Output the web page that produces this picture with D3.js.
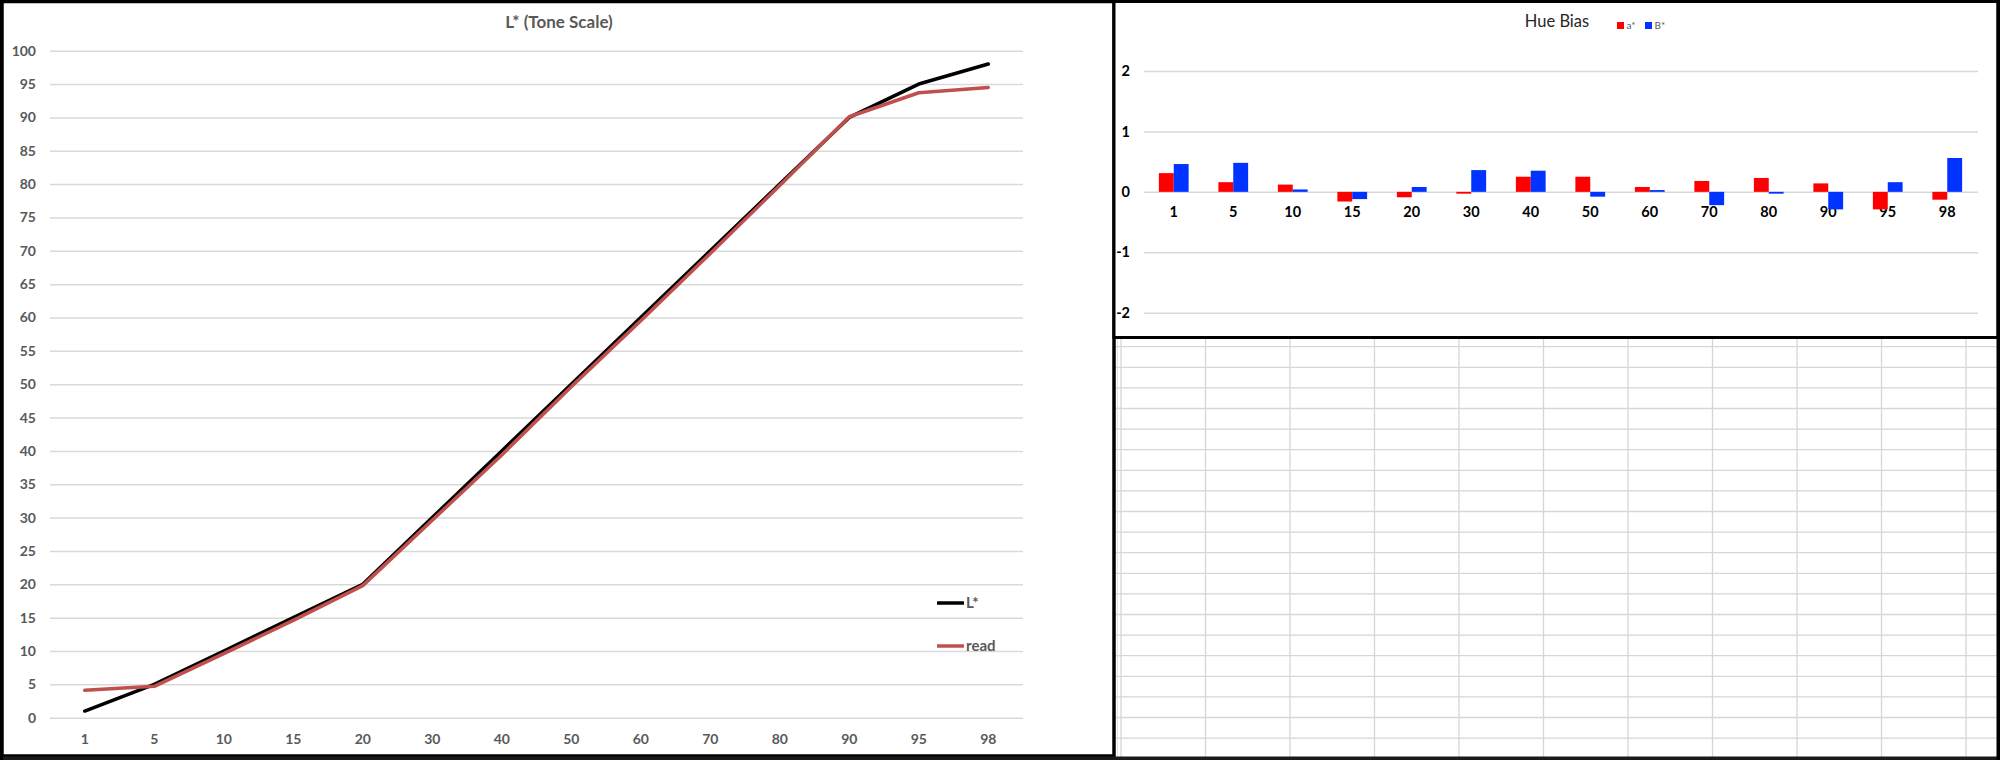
<!DOCTYPE html>
<html>
<head>
<meta charset="utf-8">
<script src="https://cdn.jsdelivr.net/npm/d3@7"></script>
<style>
  html, body { margin: 0; padding: 0; background: #ffffff; }
  svg { display: block; }
</style>
</head>
<body>
<script>
// ---- data ----
const categories = ["1","5","10","15","20","30","40","50","60","70","80","90","95","98"];
const lStar = [1,5,10,15,20,30,40,50,60,70,80,90,95,98];
const readVals = [4.1,4.7,9.6,14.6,19.8,29.6,39.4,49.6,59.5,69.6,79.8,90.1,93.7,94.5];
const toneTicks = [0,5,10,15,20,25,30,35,40,45,50,55,60,65,70,75,80,85,90,95,100];

const aStar = [0.31,0.16,0.12,-0.16,-0.09,-0.03,0.25,0.25,0.08,0.18,0.23,0.14,-0.29,-0.13];
const bStar = [0.46,0.48,0.04,-0.12,0.08,0.36,0.35,-0.08,0.03,-0.22,-0.03,-0.29,0.16,0.56];
const hueTicks = [-2,-1,0,1,2];
const hueSeries = ["a*","B*"];

const W = 2000, H = 760;
const FONT = "Lato, 'Open Sans', 'DejaVu Sans', sans-serif";
const svg = d3.select("body").append("svg").attr("width", W).attr("height", H);
svg.append("rect").attr("width", W).attr("height", H).attr("fill", "#fff");

// ---- spreadsheet grid background (bottom right) ----
const sheet = svg.append("g");
const rowLines = d3.range(0, 20).map(i => 346.7 + i * 20.6);
const colLines = d3.range(0, 11).map(i => 1121 + i * 84.5);
sheet.selectAll("line.r").data(rowLines).join("line")
  .attr("x1", 1114).attr("x2", 1998).attr("y1", d => d).attr("y2", d => d)
  .attr("stroke", "#d6d6d6").attr("stroke-width", 1.3);
sheet.selectAll("line.c").data(colLines).join("line")
  .attr("x1", d => d).attr("x2", d => d).attr("y1", 339).attr("y2", 758)
  .attr("stroke", "#d6d6d6").attr("stroke-width", 1.3);
sheet.append("line").attr("x1", 1117.5).attr("x2", 1117.5).attr("y1", 339).attr("y2", 758)
  .attr("stroke", "#e2e2e2").attr("stroke-width", 1);

// ================= LEFT CHART: L* (Tone Scale) =================
const left = svg.append("g");
left.append("rect").attr("x", 2).attr("y", 1.5).attr("width", 1112).attr("height", 754.5)
  .attr("fill", "#fff").attr("stroke", "#000").attr("stroke-width", 3.5);

const xL = d3.scaleBand().domain(categories).range([50, 1023]);
const yL = d3.scaleLinear().domain([0, 100]).range([717.7, 50.7]);

const yAxisL = left.append("g").attr("transform", "translate(50,0)")
  .call(d3.axisLeft(yL).tickValues(toneTicks).tickSize(-973).tickPadding(14).tickFormat(d => String(d)));
yAxisL.select(".domain").remove();
yAxisL.selectAll(".tick line").attr("stroke", "#d9d9d9").attr("stroke-width", 1.5);
yAxisL.selectAll(".tick text").attr("fill", "#595959").attr("font-family", FONT)
  .attr("font-weight", "bold").attr("font-size", 14);

const xAxisL = left.append("g").attr("transform", "translate(0,717.7)")
  .call(d3.axisBottom(xL).tickSize(0).tickPadding(16));
xAxisL.select(".domain").remove();
xAxisL.selectAll(".tick text").attr("fill", "#595959").attr("font-family", FONT)
  .attr("font-weight", "bold").attr("font-size", 14);

left.append("text").attr("x", 559).attr("y", 28).attr("text-anchor", "middle")
  .attr("fill", "#595959").attr("font-family", FONT).attr("font-weight", "bold")
  .attr("font-size", 17).text("L* (Tone Scale)");

const lineGen = vals => d3.line()
  .x((d, i) => xL(categories[i]) + xL.bandwidth() / 2)
  .y(d => yL(d))(vals);

left.append("path").attr("d", lineGen(lStar)).attr("fill", "none")
  .attr("stroke", "#000").attr("stroke-width", 3.5).attr("stroke-linejoin", "round").attr("stroke-linecap", "round");
left.append("path").attr("d", lineGen(readVals)).attr("fill", "none")
  .attr("stroke", "#c0504d").attr("stroke-width", 3.5).attr("stroke-linejoin", "round").attr("stroke-linecap", "round");

// legend
const legL = [{name: "L*", color: "#000", y: 603}, {name: "read", color: "#c0504d", y: 646}];
const lg = left.selectAll("g.leg").data(legL).join("g");
lg.append("line").attr("x1", 937).attr("x2", 964).attr("y1", d => d.y).attr("y2", d => d.y)
  .attr("stroke", d => d.color).attr("stroke-width", 3.5);
lg.append("text").attr("x", 966).attr("y", d => d.y).attr("dy", "0.35em")
  .attr("fill", "#595959").attr("font-family", FONT).attr("font-weight", "bold")
  .attr("font-size", 15).text(d => d.name);

// ================= RIGHT CHART: Hue Bias =================
const right = svg.append("g");
right.append("rect").attr("x", 1114).attr("y", 1.5).attr("width", 884).attr("height", 336)
  .attr("fill", "#fff").attr("stroke", "#000").attr("stroke-width", 3);

const xR = d3.scaleBand().domain(categories).range([1144, 1977]).paddingInner(0.5).paddingOuter(0.25);
const xSub = d3.scaleBand().domain(hueSeries).range([0, xR.bandwidth()]);
const yR = d3.scaleLinear().domain([-2, 2]).range([312.7, 71]);
const hueColors = {"a*": "#ff0000", "B*": "#0033ff"};

const yAxisR = right.append("g").attr("transform", "translate(1144,0)")
  .call(d3.axisLeft(yR).tickValues(hueTicks).tickSize(-834).tickPadding(14).tickFormat(d => String(d)));
yAxisR.select(".domain").remove();
yAxisR.selectAll(".tick line").attr("stroke", "#d9d9d9").attr("stroke-width", 1.5);
yAxisR.selectAll(".tick text").attr("fill", "#000").attr("font-family", FONT)
  .attr("font-weight", "bold").attr("font-size", 14.5);

const xAxisR = right.append("g").attr("transform", `translate(0,${yR(0)})`)
  .call(d3.axisBottom(xR).tickSize(0).tickPadding(14.6));
xAxisR.select(".domain").remove();
xAxisR.selectAll(".tick text").attr("fill", "#000").attr("font-family", FONT)
  .attr("font-weight", "bold").attr("font-size", 14.5);

const barData = [];
categories.forEach((c, i) => {
  barData.push({cat: c, s: "a*", v: aStar[i]});
  barData.push({cat: c, s: "B*", v: bStar[i]});
});
right.selectAll("rect.bar").data(barData).join("rect").attr("class", "bar")
  .attr("x", d => xR(d.cat) + xSub(d.s))
  .attr("width", xSub.bandwidth())
  .attr("y", d => yR(Math.max(0, d.v)))
  .attr("height", d => Math.abs(yR(d.v) - yR(0)))
  .attr("fill", d => hueColors[d.s]);

right.append("text").attr("x", 1557).attr("y", 27).attr("text-anchor", "middle")
  .attr("fill", "#262626").attr("font-family", FONT).attr("font-size", 16.5).text("Hue Bias");

const legR = [{s: "a*", x: 1617}, {s: "B*", x: 1645}];
const rg = right.selectAll("g.legr").data(legR).join("g");
rg.append("rect").attr("x", d => d.x).attr("y", 22).attr("width", 7).attr("height", 7)
  .attr("fill", d => hueColors[d.s]);
rg.append("text").attr("x", d => d.x + 9.5).attr("y", 25.5).attr("dy", "0.35em")
  .attr("fill", "#595959").attr("font-family", FONT).attr("font-size", 10).text(d => d.s);

// ---- outer frame lines ----
svg.append("rect").attr("x", 0).attr("y", 756.5).attr("width", W).attr("height", 3.5).attr("fill", "#1a1a1a");
svg.append("rect").attr("x", 1996.5).attr("y", 0).attr("width", 3.5).attr("height", H).attr("fill", "#000");
svg.append("rect").attr("x", 0).attr("y", 0).attr("width", 3).attr("height", H).attr("fill", "#000");
</script>
</body>
</html>
